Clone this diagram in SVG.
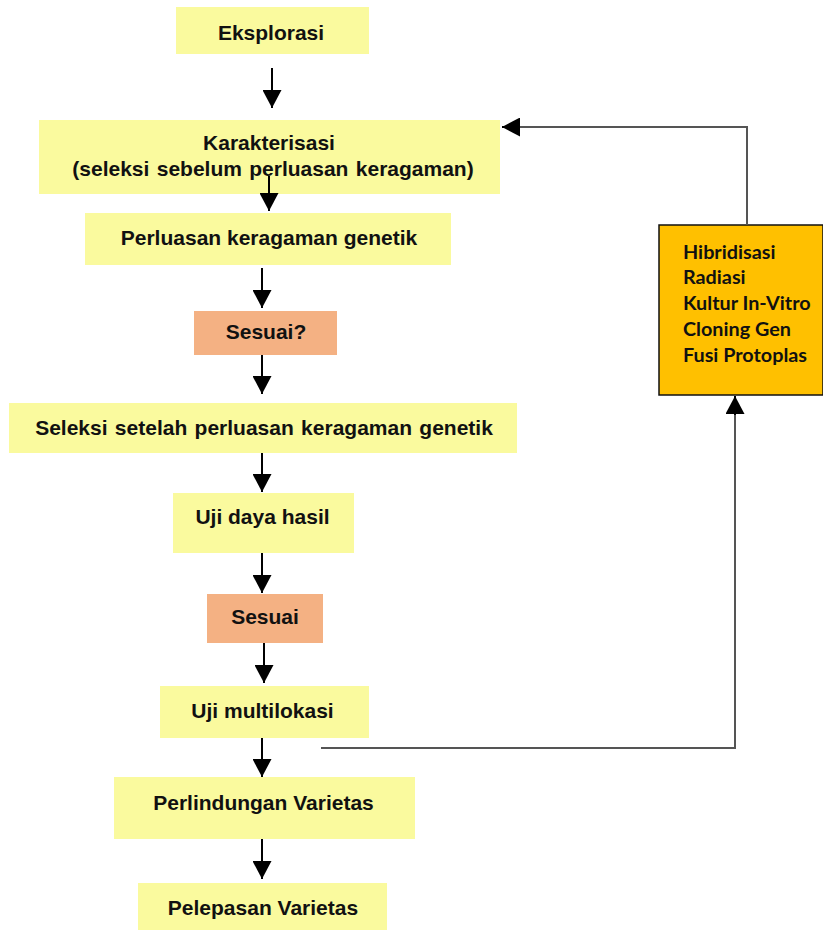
<svg xmlns="http://www.w3.org/2000/svg" width="823" height="930" viewBox="0 0 823 930">
<style>
.y{fill:#FAFA9E}
.s{fill:#F4B183}
.t{font-family:"Liberation Sans",Arial,sans-serif;font-weight:bold;font-size:21px;fill:#111;text-anchor:middle}
.o{font-family:Lato,"Open Sans",sans-serif;font-weight:bold;font-size:19.8px;fill:#111}
.a{stroke:#000;stroke-width:2;fill:none;marker-end:url(#ah)}
.f{stroke:#555;stroke-width:2;fill:none}
</style>
<defs>
<marker id="ah" markerUnits="userSpaceOnUse" markerWidth="19" markerHeight="19" refX="18" refY="9.5" orient="auto">
<path d="M0,0 L18,9.5 L0,19 z" fill="#000"/>
</marker>
</defs>
<rect width="823" height="930" fill="#fff"/>
<g id="eksplorasi"><rect class="y" x="176" y="7" width="193" height="47"/><text class="t" x="271" y="40">Eksplorasi</text></g>
<g id="karakterisasi"><rect class="y" x="39" y="120" width="461" height="74"/><text class="t" x="269" y="150">Karakterisasi</text><text class="t" x="273" y="176" word-spacing="1.5">(seleksi sebelum perluasan keragaman)</text></g>
<g id="perluasan"><rect class="y" x="85" y="213" width="366" height="52"/><text class="t" x="269" y="245">Perluasan keragaman genetik</text></g>
<g id="sesuai1"><rect class="s" x="194" y="311" width="143" height="44"/><text class="t" x="266" y="339">Sesuai?</text></g>
<g id="seleksi"><rect class="y" x="9" y="403" width="508" height="50"/><text class="t" x="264" y="435" word-spacing="1.5">Seleksi setelah perluasan keragaman genetik</text></g>
<g id="ujidaya"><rect class="y" x="173" y="493" width="181" height="60"/><text class="t" x="262.5" y="524">Uji daya hasil</text></g>
<g id="sesuai2"><rect class="s" x="207" y="594" width="116" height="49"/><text class="t" x="265" y="624">Sesuai</text></g>
<g id="ujimulti"><rect class="y" x="160" y="686" width="209" height="52"/><text class="t" x="262.5" y="718">Uji multilokasi</text></g>
<g id="perlindungan"><rect class="y" x="114" y="777" width="301" height="62"/><text class="t" x="263.5" y="810">Perlindungan Varietas</text></g>
<g id="pelepasan"><rect class="y" x="138" y="883" width="249" height="50"/><text class="t" x="263" y="915">Pelepasan Varietas</text></g>
<g id="metode"><rect x="659" y="225" width="164" height="170" fill="#FFC000" stroke="#111" stroke-width="1.5"/>
<text class="o" x="683" y="259">Hibridisasi</text>
<text class="o" x="683" y="284">Radiasi</text>
<text class="o" x="683" y="310">Kultur In-Vitro</text>
<text class="o" x="683" y="336">Cloning Gen</text>
<text class="o" x="683" y="362">Fusi Protoplas</text></g>
<g id="connectors">
<line class="a" x1="272" y1="68" x2="272" y2="108"/>
<line class="a" x1="269" y1="176" x2="269" y2="211"/>
<line class="a" x1="262" y1="268" x2="262" y2="308"/>
<line class="a" x1="262" y1="355" x2="262" y2="394"/>
<line class="a" x1="262" y1="453" x2="262" y2="492"/>
<line class="a" x1="262" y1="553" x2="262" y2="593"/>
<line class="a" x1="264" y1="643" x2="264" y2="683"/>
<line class="a" x1="262" y1="738" x2="262" y2="777"/>
<line class="a" x1="262" y1="839" x2="262" y2="879"/>
<path class="f" d="M747,225 V127 H515"/>
<line class="a" x1="520" y1="127" x2="502" y2="127"/>
<path class="f" d="M321,748 H735 V410"/>
<line class="a" x1="735" y1="415" x2="735" y2="396"/>
</g>
</svg>
